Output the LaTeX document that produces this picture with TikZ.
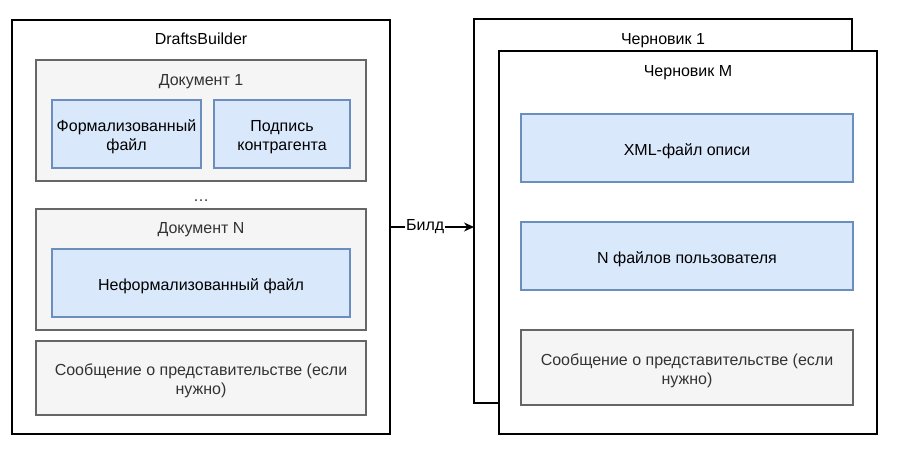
\documentclass[tikz,border=0pt]{standalone}
\usepackage{fontspec}
\setmainfont{Liberation Sans}
\usetikzlibrary{arrows.meta}
\definecolor{grayfill}{HTML}{F5F5F5}
\definecolor{graystroke}{HTML}{666666}
\definecolor{graytext}{HTML}{333333}
\definecolor{bluefill}{HTML}{DAE8FC}
\definecolor{bluestroke}{HTML}{6C8EBF}
\begin{document}
\begin{tikzpicture}[x=1pt,y=-1pt,
  every node/.style={font=\fontsize{16}{19}\selectfont, inner sep=0pt, outer sep=0pt},
  container/.style={draw=black, fill=white, line width=1.3pt, anchor=north west},
  docbox/.style={draw=graystroke, fill=grayfill, line width=1.3pt, anchor=north west},
  bluebox/.style={draw=bluestroke, fill=bluefill, line width=1.3pt, anchor=north west},
  intext/.style={align=center, yshift=-3pt},
  graytxt/.style={intext, text=graytext},
  lbl/.style={anchor=base},
  conn/.style={draw=black, line width=1.3pt, -{Stealth[length=10pt,width=9pt]}},
]
\useasboundingbox (0,0) rectangle (899,458);
% left container
\node[container, minimum width=378pt, minimum height=414pt] (db) at (12,20) {};
\node[lbl] (dbt) at (201,44) {DraftsBuilder};
\node[docbox, minimum width=330pt, minimum height=121pt] (d1) at (36,60) {};
\node[lbl, text=graytext] (d1t) at (201,85) {Документ 1};
\node[bluebox, minimum width=149pt, minimum height=68pt] (f1) at (52,100) {};
\node[intext] (f1t) at (f1.center) {Формализованный\\файл};
\node[bluebox, minimum width=136pt, minimum height=68pt] (s1) at (214,100) {};
\node[intext] (s1t) at (s1.center) {Подпись\\контрагента};
\node[lbl, text=graytext] (dots) at (201,201) {…};
\node[docbox, minimum width=330pt, minimum height=121pt] (dn) at (36,209) {};
\node[lbl, text=graytext] (dnt) at (201,233) {Документ N};
\node[bluebox, minimum width=298pt, minimum height=68pt] (nf) at (52,249) {};
\node[intext] (nft) at (nf.center) {Неформализованный файл};
\node[docbox, minimum width=330pt, minimum height=74pt] (msg1) at (36,341) {};
\node[graytxt] (msg1t) at (msg1.center) {Сообщение о представительстве (если\\нужно)};
% right containers
\node[container, minimum width=378pt, minimum height=384pt] (ch1) at (474,19) {};
\node[lbl] (ch1t) at (663,44) {Черновик 1};
\node[container, minimum width=378pt, minimum height=383pt] (chm) at (499,51) {};
\node[lbl] (chmt) at (688,76) {Черновик M};
\node[bluebox, minimum width=332pt, minimum height=68pt] (xml) at (521,114) {};
\node[intext] (xmlt) at (xml.center) {XML-файл описи};
\node[bluebox, minimum width=332pt, minimum height=68pt] (nfiles) at (521,222) {};
\node[intext] (nfilest) at (nfiles.center) {N файлов пользователя};
\node[docbox, minimum width=332pt, minimum height=75pt] (msg2) at (521,330) {};
\node[graytxt] (msg2t) at (msg2.center) {Сообщение о представительстве (если\\нужно)};
% connector
\draw[conn] (db.east) -- (db.east -| ch1.west) node[pos=0.42, fill=white, inner sep=1pt] (build) {Билд};
\end{tikzpicture}
\end{document}
